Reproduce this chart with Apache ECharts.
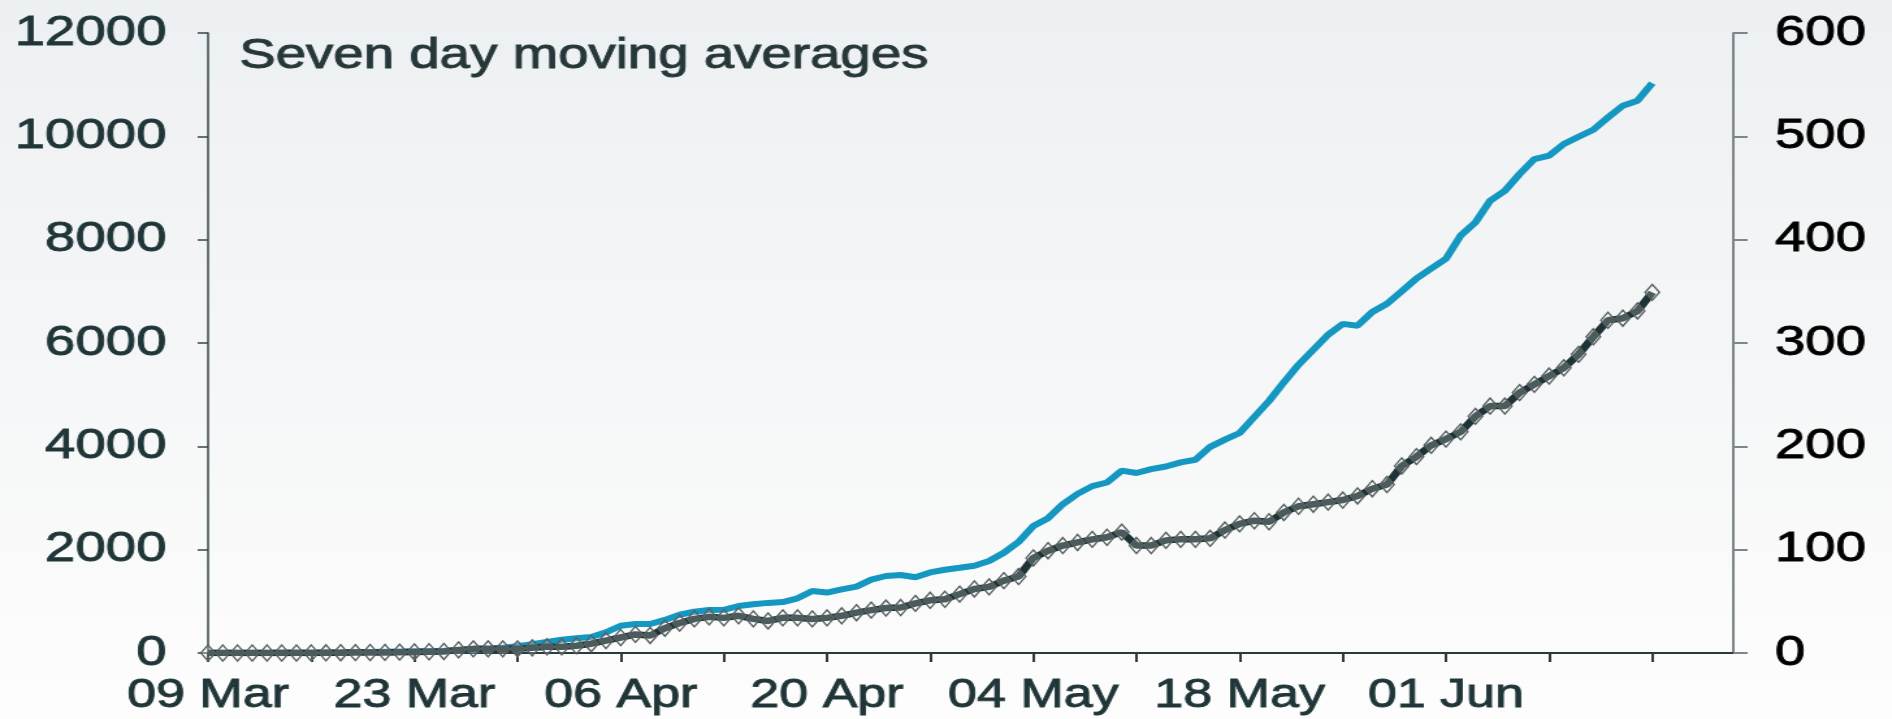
<!DOCTYPE html>
<html>
<head>
<meta charset="utf-8">
<script src="https://cdn.jsdelivr.net/npm/echarts@6/dist/echarts.min.js"></script>
<style>
  html, body { margin: 0; padding: 0; }
  body {
    width: 1892px; height: 719px; overflow: hidden;
    background: linear-gradient(to bottom, #edf0f2 0%, #f5f6f7 50%, #fdfdfd 100%);
  }
  /* the reference is stretched sideways, so the chart is drawn narrower and widened */
  #main { width: 1455px; height: 719px; transform: scaleX(1.3003); transform-origin: 0 0; }
</style>
</head>
<body>
<div id="main"></div>
<script>
// day 0 = 09 Mar, one value per day up to 15 Jun
var cases = [3, 4, 5, 6, 7, 8, 9, 10, 12, 14,
    17, 20, 25, 30, 35, 40, 45, 55, 65, 80,
    100, 130, 170, 215, 257, 285, 310, 400, 528, 561,
    561, 640, 740, 800, 832, 835, 910, 945, 970, 985,
    1058, 1200, 1170, 1230, 1285, 1420, 1490, 1510, 1465, 1560,
    1612, 1650, 1690, 1780, 1940, 2150, 2460, 2610, 2880, 3080,
    3230, 3300, 3530, 3484, 3560, 3610, 3690, 3741, 3990, 4130,
    4258, 4570, 4880, 5240, 5580, 5870, 6160, 6370, 6335, 6600,
    6760, 7000, 7250, 7440, 7630, 8080, 8335, 8754, 8947, 9270,
    9561, 9625, 9851, 9992, 10128, 10367, 10592, 10689, 11031];

var deaths = [0, 0, 0, 0, 0, 0, 0, 0, 0.2, 0.3,
    0.4, 0.5, 0.6, 0.8, 1, 1.2, 1.5, 3, 4, 4,
    4, 4, 5, 6, 6, 7, 9, 12, 15, 18,
    17, 24, 29, 33, 35, 34, 36, 33, 31, 34,
    34, 33, 34, 36, 39, 41.5, 43.5, 44, 48, 51,
    52, 57, 62, 64, 70, 74, 92, 99, 104, 107,
    110, 112, 117, 104, 104, 109, 110, 110, 111, 119,
    125, 128, 127, 136, 142, 144, 146, 148, 152, 159,
    163, 181, 190, 201, 207, 214, 229, 239, 239, 252,
    260, 268, 276, 289, 306, 322, 324, 331, 349];

var tickDays = [0, 7, 14, 21, 28, 35, 42, 49, 56, 63, 70, 77, 84, 91, 98];
var labelDays = [0, 14, 28, 42, 56, 70, 84];
var tickLabels = ['09 Mar', '23 Mar', '06 Apr', '20 Apr', '04 May', '18 May', '01 Jun'];

var font = 'Liberation Sans, Arial, sans-serif';
var chart = echarts.init(document.getElementById('main'));

function textStyle(size, color) {
    return {
        fontFamily: font, fontSize: size, color: color,
        textBorderColor: color, textBorderWidth: 0.9
    };
}

var option = {
    animation: false,
    backgroundColor: 'transparent',
    title: {
        text: 'Seven day moving averages',
        left: 184,
        top: 35,
        padding: 0,
        textStyle: Object.assign({ fontWeight: 'normal' }, textStyle(42, '#263739'))
    },
    grid: { left: 160, right: 122, top: 33, bottom: 66 },
    xAxis: {
        type: 'value',
        min: 0,
        max: 103.5,
        interval: 7,
        splitLine: { show: false },
        axisLine: { show: true, lineStyle: { color: '#2b3a3c', width: 2 } },
        axisTick: { show: true, length: 9, customValues: tickDays, lineStyle: { color: '#2b3a3c', width: 2 } },
        axisLabel: Object.assign({
            customValues: labelDays,
            margin: 23,
            formatter: function (v) {
                var i = labelDays.indexOf(v);
                return i >= 0 ? tickLabels[i] : '';
            }
        }, textStyle(40, '#1f3537'))
    },
    yAxis: [{
        type: 'value',
        min: 0,
        max: 12000,
        interval: 2000,
        position: 'left',
        splitLine: { show: false },
        axisLine: { show: true, lineStyle: { color: '#34474a', width: 1.5 } },
        axisTick: { show: true, length: 8, lineStyle: { color: '#34474a', width: 1.5 } },
        axisLabel: Object.assign({
            margin: 32,
            formatter: function (v) { return String(v); }
        }, textStyle(42, '#1f3537'))
    }, {
        type: 'value',
        min: 0,
        max: 600,
        interval: 100,
        position: 'right',
        splitLine: { show: false },
        axisLine: { show: true, lineStyle: { color: '#7c878a', width: 2 } },
        axisTick: { show: true, length: 11, lineStyle: { color: '#7c878a', width: 2 } },
        axisLabel: Object.assign({ margin: 32 }, textStyle(42, '#000000'))
    }],
    series: [{
        name: 'cases',
        type: 'line',
        yAxisIndex: 0,
        showSymbol: false,
        z: 2,
        lineStyle: { color: '#1497c0', width: 6 },
        data: cases.map(function (v, i) { return [i, v]; })
    }, {
        name: 'deaths',
        type: 'line',
        yAxisIndex: 1,
        symbol: 'diamond',
        symbolSize: [11, 16],
        z: 3,
        lineStyle: { color: '#1e3336', width: 6.5 },
        itemStyle: { color: 'rgba(255,255,255,0.2)', borderColor: '#56615f', borderWidth: 1.4 },
        data: deaths.map(function (v, i) { return [i, v]; })
    }]
};
chart.setOption(option);
</script>
</body>
</html>
